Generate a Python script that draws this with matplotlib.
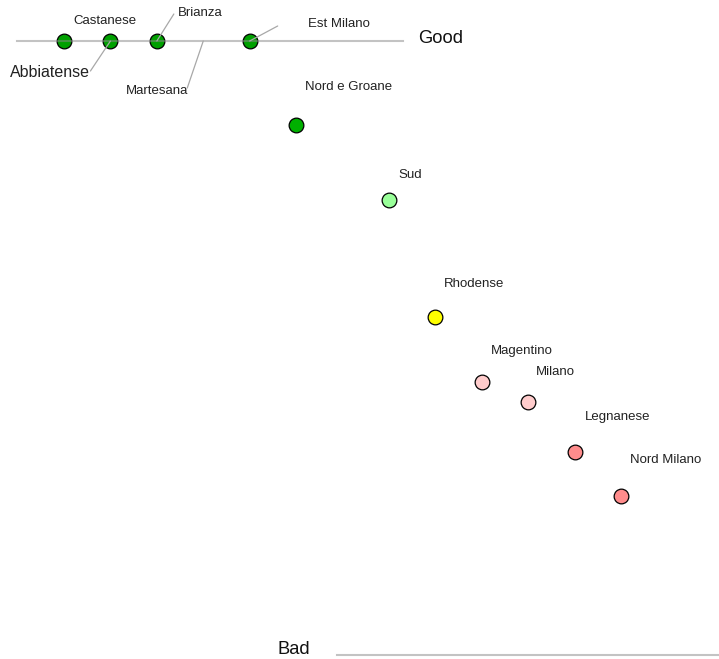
import matplotlib
matplotlib.use("Agg")
import matplotlib.pyplot as plt

plt.rcParams['font.family'] = ['Liberation Sans', 'DejaVu Sans']

# ---- data ----
districts = ["Castanese", "Abbiatense", "Brianza", "Martesana", "Est Milano",
             "Nord e Groane", "Sud", "Rhodense", "Magentino", "Milano",
             "Legnanese", "Nord Milano"]
rank_pos = [1, 2, 3, 4, 5, 6, 8, 9, 10, 11, 12, 13]
scores = [100, 100, 100, 100, 100, 86.3, 74.1, 55.0, 44.5, 41.2, 33.1, 25.9]
colors = ["#00a000", "#00a000", "#00a000", None, "#00a000",
          "#00b000", "#99ff99", "#ffff00", "#ffcccc", "#ffcccc",
          "#ff8c8c", "#ff8c8c"]

# ---- layout (pixel offsets from point, y up) ----
label_off = {
    "Castanese": (9, 20, "left", 9.5),
    "Abbiatense": (-20, -31, "right", 11.5),
    "Brianza": (21, 28, "left", 9.5),
    "Martesana": (-15, -50, "right", 9.5),
    "Est Milano": (58, 17, "left", 9.5),
    "Nord e Groane": (9, 38, "left", 9.5),
    "Sud": (9, 25, "left", 9.5),
    "Rhodense": (9, 33, "left", 9.5),
    "Magentino": (9, 31, "left", 9.5),
    "Milano": (8, 30, "left", 9.5),
    "Legnanese": (10, 35, "left", 9.5),
    "Nord Milano": (9, 36, "left", 9.5),
}
leader_off = {
    "Abbiatense": (-20, -30),
    "Brianza": (17, 27),
    "Martesana": (-16, -47),
    "Est Milano": (28, 15),
}

W, H = 719, 659
fig = plt.figure(figsize=(W / 100, H / 100), dpi=100)
ax = fig.add_axes([0, 0, 1, 1])
ax.set_axis_off()

# map: rank 1 -> px 64, step 46.42 ; score 100 -> py 41, 0 -> py 655
step = 46.42
x0 = 1 - 64 / step
x1 = 1 + (W - 64) / step
ppu = (655 - 41) / 100.0
ytop = 100 + 41 / ppu
ybot = 100 - (H - 41) / ppu
ax.set_xlim(x0, x1)
ax.set_ylim(ybot, ytop)

ax.axhline(100, xmin=17 / W, xmax=403 / W, color="#888888", alpha=0.5,
           lw=1.5, zorder=4)
ax.axhline(0, xmin=337 / W, xmax=1, color="#888888", alpha=0.5, lw=1.5,
           zorder=4)
ax.text(418 / W, 1 - 38.3 / H, "Good", transform=ax.transAxes,
        fontsize=13.2, ha="left", va="center", color="#111111")
ax.text(310 / W, 1 - 650 / H, "Bad", transform=ax.transAxes,
        fontsize=13.2, ha="right", va="center", color="#111111")

for name, r, s, c in zip(districts, rank_pos, scores, colors):
    if name in leader_off:
        dx, dy = leader_off[name]
        ax.annotate("", xy=(r, s), xytext=(dx, dy), textcoords="offset pixels",
                    arrowprops=dict(arrowstyle="-", color="#a8a8a8", lw=0.9,
                                    shrinkA=0, shrinkB=0), zorder=5)
    if c is not None:
        ax.scatter([r], [s], s=112, c=c, edgecolors="black", linewidths=0.9,
                   zorder=3)
    dx, dy, ha, fs = label_off[name]
    ax.annotate(name, xy=(r, s), xytext=(dx, dy), textcoords="offset pixels",
                ha=ha, va="center", fontsize=fs, color="#222222", zorder=6)

fig.savefig("out.png", dpi=100)
